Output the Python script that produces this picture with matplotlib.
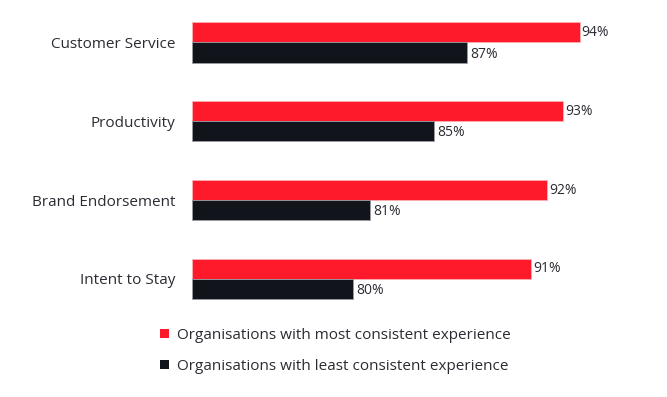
import matplotlib.pyplot as plt
from matplotlib.patches import Patch

# data
categories = ["Customer Service", "Productivity", "Brand Endorsement", "Intent to Stay"]
most_consistent = [94, 93, 92, 91]
least_consistent = [87, 85, 81, 80]
series_labels = ["Organisations with most consistent experience",
                 "Organisations with least consistent experience"]

RED = "#ff1a2b"
DARK = "#12141c"
TXT = "#2b2b33"

plt.rcParams['font.family'] = ['Open Sans', 'DejaVu Sans']

fig = plt.figure(figsize=(6.67, 3.97), dpi=100)
W, H = 667, 397
ax = fig.add_axes([192 / W, 1 - 315 / H, (640 - 192) / W, 315 / H])

bar_h = 0.255
ypos = list(range(len(categories)))

red_bars = ax.barh([y - bar_h / 2 for y in ypos], [v - 70 for v in most_consistent],
                   left=70, height=bar_h, color=RED, edgecolor="#f8b0b5", linewidth=0.6)
dark_bars = ax.barh([y + bar_h / 2 for y in ypos], [v - 70 for v in least_consistent],
                    left=70, height=bar_h, color=DARK, edgecolor="#9a9aa2", linewidth=0.6)

for y, v in zip(ypos, most_consistent):
    ax.text(v + 0.1, y - bar_h / 2, f"{v}%", va="center", ha="left", fontsize=10, color=TXT)
for y, v in zip(ypos, least_consistent):
    ax.text(v + 0.2, y + bar_h / 2 + 0.02, f"{v}%", va="center", ha="left", fontsize=10, color=TXT)

ax.set_xlim(70, 97.74)
ax.set_ylim(3.458, -0.539)
ax.set_yticks(ypos)
ax.set_yticklabels(categories, fontsize=11, color=TXT)
ax.tick_params(axis="y", length=0, pad=12)
ax.set_xticks([])
for s in ax.spines.values():
    s.set_visible(False)
for lbl in ax.get_yticklabels():
    lbl.set_y(lbl.get_position()[1])

handles = [Patch(facecolor=RED), Patch(facecolor=DARK)]
fig.legend(handles, series_labels, loc="upper left", bbox_to_anchor=(146 / W, 1 - 314 / H),
           frameon=False, fontsize=11, handlelength=0.6, handleheight=0.6,
           handletextpad=0.5, labelspacing=1.05, labelcolor=TXT)

fig.savefig("out.png", dpi=100)
